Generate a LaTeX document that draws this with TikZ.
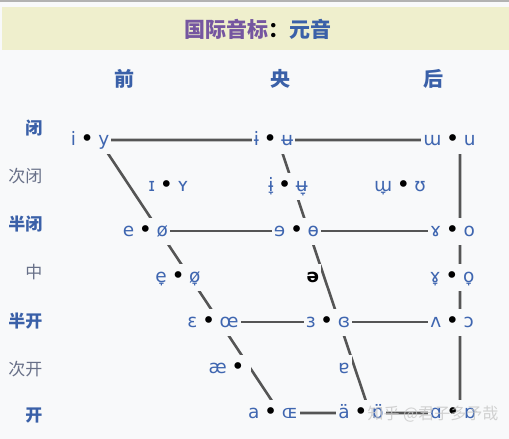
\documentclass[tikz,border=0pt]{standalone}
\usepackage{fontspec}
\newfontfamily\cjk{Noto Sans CJK SC}
\newfontfamily\ipa{DejaVu Sans}
\usetikzlibrary{calc,positioning}
\definecolor{pagebg}{HTML}{F8F9FA}
\definecolor{titlebg}{HTML}{EFEFCD}
\definecolor{titlepurple}{HTML}{7556A0}
\definecolor{headblue}{HTML}{3A60A8}
\definecolor{ipablue}{HTML}{3F66B0}
\definecolor{rowgray}{HTML}{687088}
\definecolor{chartline}{HTML}{555555}
\newcommand\bul{\textcolor{black}{\fontsize{23}{23}\selectfont\kern-1.5pt\raisebox{-1.5pt}{•}\kern-1.5pt}}
\tikzset{
     chart/.style = {draw=chartline, line width=2.6pt},   % <--- lines of the chart
      pair/.style = {fill=pagebg, text=ipablue,
                     font=\ipa\fontsize{18.5}{18.5}\selectfont,
                     inner xsep=2pt, inner ysep=0pt,
                     text height=10pt, text depth=0pt, minimum height=27pt},
      head/.style = {font=\cjk\bfseries\fontsize{20}{20}\selectfont, text=headblue},
       row/.style = {anchor=east, font=\cjk\fontsize{17}{17}\selectfont, text=rowgray},
   rowbold/.style = {row, font=\cjk\bfseries\fontsize{17}{17}\selectfont, text=headblue},
        }
\begin{document}
\begin{tikzpicture}[x=1pt,y=-1pt]
  \fill[pagebg] (0,0) rectangle (509,439);
  \useasboundingbox (0,0) rectangle (509,439);
  \fill[gray!60] (0,0) rectangle (509,1.5);
  \fill[titlebg] (2,7) rectangle (509,50);
  \node[font=\cjk\bfseries\fontsize{21}{21}\selectfont] (title) at (258,29)
    {\textcolor{titlepurple}{国际音标}：\textcolor{headblue}{元音}};

  % column heads
  \node[head] (front) at (124,79) {前};
  \node[head] (central) at (280,79) {央};
  \node[head] (back) at (433,79) {后};

  % row heads
  \node[rowbold] (r1) at (46,128) {闭};
  \node[row]     (r2) at (46,176) {次闭};
  \node[rowbold] (r3) at (46,224) {半闭};
  \node[row]     (r4) at (46,272) {中};
  \node[rowbold] (r5) at (46,321) {半开};
  \node[row]     (r6) at (46,369) {次开};
  \node[rowbold] (r7) at (46,416) {开};

  % corners of the chart
  \coordinate (ft) at (99,140);
  \coordinate (fb) at (280,413);
  \coordinate (mt) at (278,140);
  \coordinate (mb) at (370,413);
  \coordinate (bt) at (460,140);
  \coordinate (bb) at (460,413);
  \draw[chart] (ft) -- (bt) -- (bb) -- (fb) -- cycle;
  \draw[chart] (mt) -- (mb);
  \draw[chart] ($(ft)!1/3!(fb)$) -- ($(bt)!1/3!(bb)$);
  \draw[chart] ($(ft)!2/3!(fb)$) -- ($(bt)!2/3!(bb)$);

  % vowels
  \node[pair] (A1) at (90,140)    {i \bul{} y};
  \node[pair] (B1) at (273.5,140) {ɨ \bul{} ʉ};
  \node[pair] (C1) at (449.5,140) {ɯ \bul{} u};

  \node[pair] (A2) at (168.5,186) {ɪ \bul{} ʏ};
  \node[pair] (B2) at (288,186)   {ɨ̞ \bul{} ʉ̞};
  \node[pair] (C2) at (400,186)   {ɯ̞ \bul{} ʊ};

  \node[pair] (A3) at (145.5,231) {e \bul{} ø};
  \node[pair] (B3) at (296.5,231) {ɘ \bul{} ɵ};
  \node[pair] (C3) at (452.5,231) {ɤ \bul{} o};

  \node[pair] (A4) at (178,277)   {e̞ \bul{} ø̞};
  \node[pair,text=black,font=\ipa\bfseries\fontsize{18.5}{18.5}\selectfont] (B4) at (313,277) {ə};
  \node[pair] (C4) at (452,277)   {ɤ̞ \bul{} o̞};

  \node[pair] (A5) at (213,322)   {ɛ \bul{} œ};
  \node[pair] (B5) at (328,322)   {ɜ \bul{} ɞ};
  \node[pair] (C5) at (452,322)   {ʌ \bul{} ɔ};

  \node[pair] (A6) at (229,368)   {æ \bul\kern6pt};
  \node[pair] (B6) at (344,368)   {ɐ};

  \node[pair] (A7) at (273,413)   {a \bul{} ɶ};
  \node[pair] (B7) at (361,413)   {ä \bul{} ɒ̈};
  \node[pair] (C7) at (453,413)   {ɑ \bul{} ɒ};

  \node[font=\cjk\fontsize{16}{16}\selectfont, text=gray!45, opacity=.8] (mark) at (433,414) {知乎 @君子多予哉};
\end{tikzpicture}
\end{document}
